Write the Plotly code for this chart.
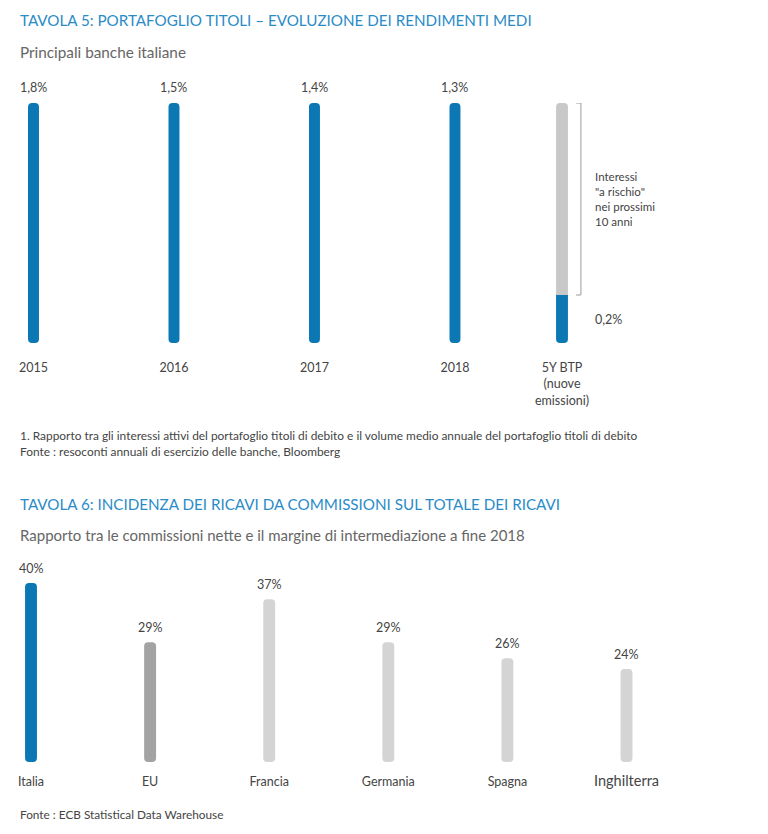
import plotly.graph_objects as go

# ---------------- data ----------------
anni = ["2015", "2016", "2017", "2018"]
rendimenti = [1.8, 1.5, 1.4, 1.3]          # % labels shown above bars
altezza_barre = [1.0, 1.0, 1.0, 1.0]       # bars drawn at equal height in the original
btp_categoria = ["5Y BTP<br>(nuove<br>emissioni)"]
btp_rendimento = [0.2]                     # blue part (and its label)
btp_totale = [1.0]                         # full bar height (gray = interest "at risk")

paesi = ["Italia", "EU", "Francia", "Germania", "Spagna", "Inghilterra"]
commissioni = [40, 29, 37, 29, 26, 24]     # %
colori_paesi = ["#0b78b4", "#a3a3a3", "#d4d4d4", "#d4d4d4", "#d4d4d4", "#d4d4d4"]

# ---------------- style ----------------
W, H = 768, 834
BLUE = "#0b78b4"
GRAY_BTP = "#c8c8c8"
TITLE_BLUE = "#2a8cc7"
TXT = "#444444"
FONT = "Lato"
R = 4  # corner radius (px)

def py(px):          # pixel row -> paper y
    return 1 - px / H

def pxx(px):         # pixel col -> paper x
    return px / W

fig = go.Figure()

# The top panel's y axis has its zero at the joint between the blue and gray
# parts of the BTP bar, so that both parts keep a flat joint.
shift = btp_rendimento[0]
top_max = max(btp_totale + altezza_barre)

# ---- Tavola 5: years (bars with a base get all corners rounded) ----
fig.add_trace(go.Bar(x=anni, y=altezza_barre, base=[-shift] * len(anni), width=0.078,
                     marker=dict(color=BLUE, cornerradius=R, line_width=0),
                     xaxis="x", yaxis="y", hoverinfo="skip", showlegend=False))
for i, (h, v) in enumerate(zip(altezza_barre, rendimenti)):
    # category index used as position (year strings would be read as numbers)
    fig.add_annotation(x=i, y=h / top_max, xref="x", yref="y domain",
                       text=f"{v:.1f}%".replace(".", ","),
                       showarrow=False, yanchor="middle", yshift=16,
                       font=dict(family=FONT, size=12.5, color=TXT))

# ---- Tavola 5: 5Y BTP ----
fig.add_trace(go.Bar(x=btp_categoria, y=[btp_totale[0] - btp_rendimento[0]], width=0.27,
                     marker=dict(color=GRAY_BTP, cornerradius=R, line_width=0),
                     xaxis="x2", yaxis="y", hoverinfo="skip", showlegend=False))
fig.add_trace(go.Bar(x=btp_categoria, y=[-btp_rendimento[0]], width=0.27,
                     marker=dict(color=BLUE, cornerradius=R, line_width=0),
                     xaxis="x2", yaxis="y", hoverinfo="skip", showlegend=False))
# bracket for interest at risk
y_lo, y_hi = 0, btp_totale[0] - shift
bx0, bx1 = 0.32, 0.43
for (xa0, ya0, xa1, ya1) in [(bx1, y_lo, bx1, y_hi), (bx0, y_hi, bx1, y_hi), (bx0, y_lo, bx1, y_lo)]:
    fig.add_shape(type="line", xref="x2", yref="y", x0=xa0, y0=ya0, x1=xa1, y1=ya1,
                  line=dict(color="#9a9a9a", width=1))
fig.add_annotation(x=0.70, y=(y_lo + y_hi) / 2, xref="x2", yref="y",
                   text='Interessi<br>"a rischio"<br>nei prossimi<br>10 anni', align="left",
                   showarrow=False, xanchor="left", yanchor="middle",
                   font=dict(family=FONT, size=11.5, color=TXT))
fig.add_annotation(x=0.70, y=-btp_rendimento[0] / 2, xref="x2", yref="y",
                   text=f"{btp_rendimento[0]:.1f}%".replace(".", ","), align="left",
                   showarrow=False, xanchor="left", yanchor="middle",
                   font=dict(family=FONT, size=12.5, color=TXT))

# ---- Tavola 6 ----
floor6 = 6.7   # axis floor of the original graphic
fig.add_trace(go.Bar(x=paesi, y=[v - floor6 for v in commissioni], base=[floor6] * len(paesi),
                     width=0.1, marker=dict(color=colori_paesi, cornerradius=R, line_width=0),
                     xaxis="x3", yaxis="y3", hoverinfo="skip", showlegend=False))
for p, v in zip(paesi, commissioni):
    fig.add_annotation(x=p, y=v, xref="x3", yref="y3", text=f"{v}%",
                       showarrow=False, yanchor="middle", yshift=15,
                       font=dict(family=FONT, size=12.5, color=TXT))

# ---- texts ----
def txt(x, y, s, size, color, family=FONT):
    fig.add_annotation(x=pxx(x), y=py(y), xref="paper", yref="paper", text=s,
                       showarrow=False, xanchor="left", yanchor="middle", align="left",
                       font=dict(family=family, size=size, color=color))

txt(18, 20, "TAVOLA 5: PORTAFOGLIO TITOLI – EVOLUZIONE DEI RENDIMENTI MEDI", 15.2, TITLE_BLUE)
txt(18, 52, "Principali banche italiane", 15.3, "#666666")
txt(18, 435, "1. Rapporto tra gli interessi attivi del portafoglio titoli di debito e il volume medio annuale del portafoglio titoli di debito", 11.9, TXT)
txt(18, 451, "Fonte : resoconti annuali di esercizio delle banche, Bloomberg", 11.9, TXT)
txt(18, 504, "TAVOLA 6: INCIDENZA DEI RICAVI DA COMMISSIONI SUL TOTALE DEI RICAVI", 15.2, TITLE_BLUE)
txt(18, 535, "Rapporto tra le commissioni nette e il margine di intermediazione a fine 2018", 15, "#666666")
txt(18, 814, "Fonte : ECB Statistical Data Warehouse", 11.8, TXT)

# ---------------- axes ----------------
tickfont = dict(family=FONT, size=12.5, color=TXT)
hidden = dict(showgrid=False, zeroline=False, showline=False, automargin=False)

fig.update_layout(
    template="none",
    width=W, height=H, margin=dict(l=0, r=0, t=0, b=0, pad=0),
    paper_bgcolor="white", plot_bgcolor="rgba(0,0,0,0)",
    barmode="overlay", showlegend=False,
    xaxis=dict(domain=[0, pxx(530)], type="category", range=[-0.2384, 3.534],
               ticks="outside", ticklen=13, tickcolor="rgba(0,0,0,0)",
               tickfont=tickfont, anchor="y", **hidden),
    xaxis2=dict(domain=[pxx(540), pxx(700)], type="category", range=[-0.5, -0.5 + 160 / 44],
                ticks="outside", ticklen=13, tickcolor="rgba(0,0,0,0)",
                tickfont=tickfont, anchor="y", **hidden),
    yaxis=dict(domain=[py(343), py(103)], range=[-shift, top_max - shift],
               visible=False, **hidden),
    xaxis3=dict(domain=[0, 1], type="category", range=[-0.2603, 6.188],
                ticks="outside", ticklen=8, tickcolor="rgba(0,0,0,0)",
                tickfont=tickfont, anchor="y3", tickvals=paesi,
                ticktext=paesi[:-1] + ['<span style="font-size:14.5px">Inghilterra</span>'],
                **hidden),
    yaxis3=dict(domain=[py(762), py(583)], range=[floor6, max(commissioni)], visible=False, **hidden),
)

fig.write_html("out.html", config={"displayModeBar": False},
               post_script="document.body.style.margin='0px';"
                           "document.documentElement.style.overflow='hidden';")
